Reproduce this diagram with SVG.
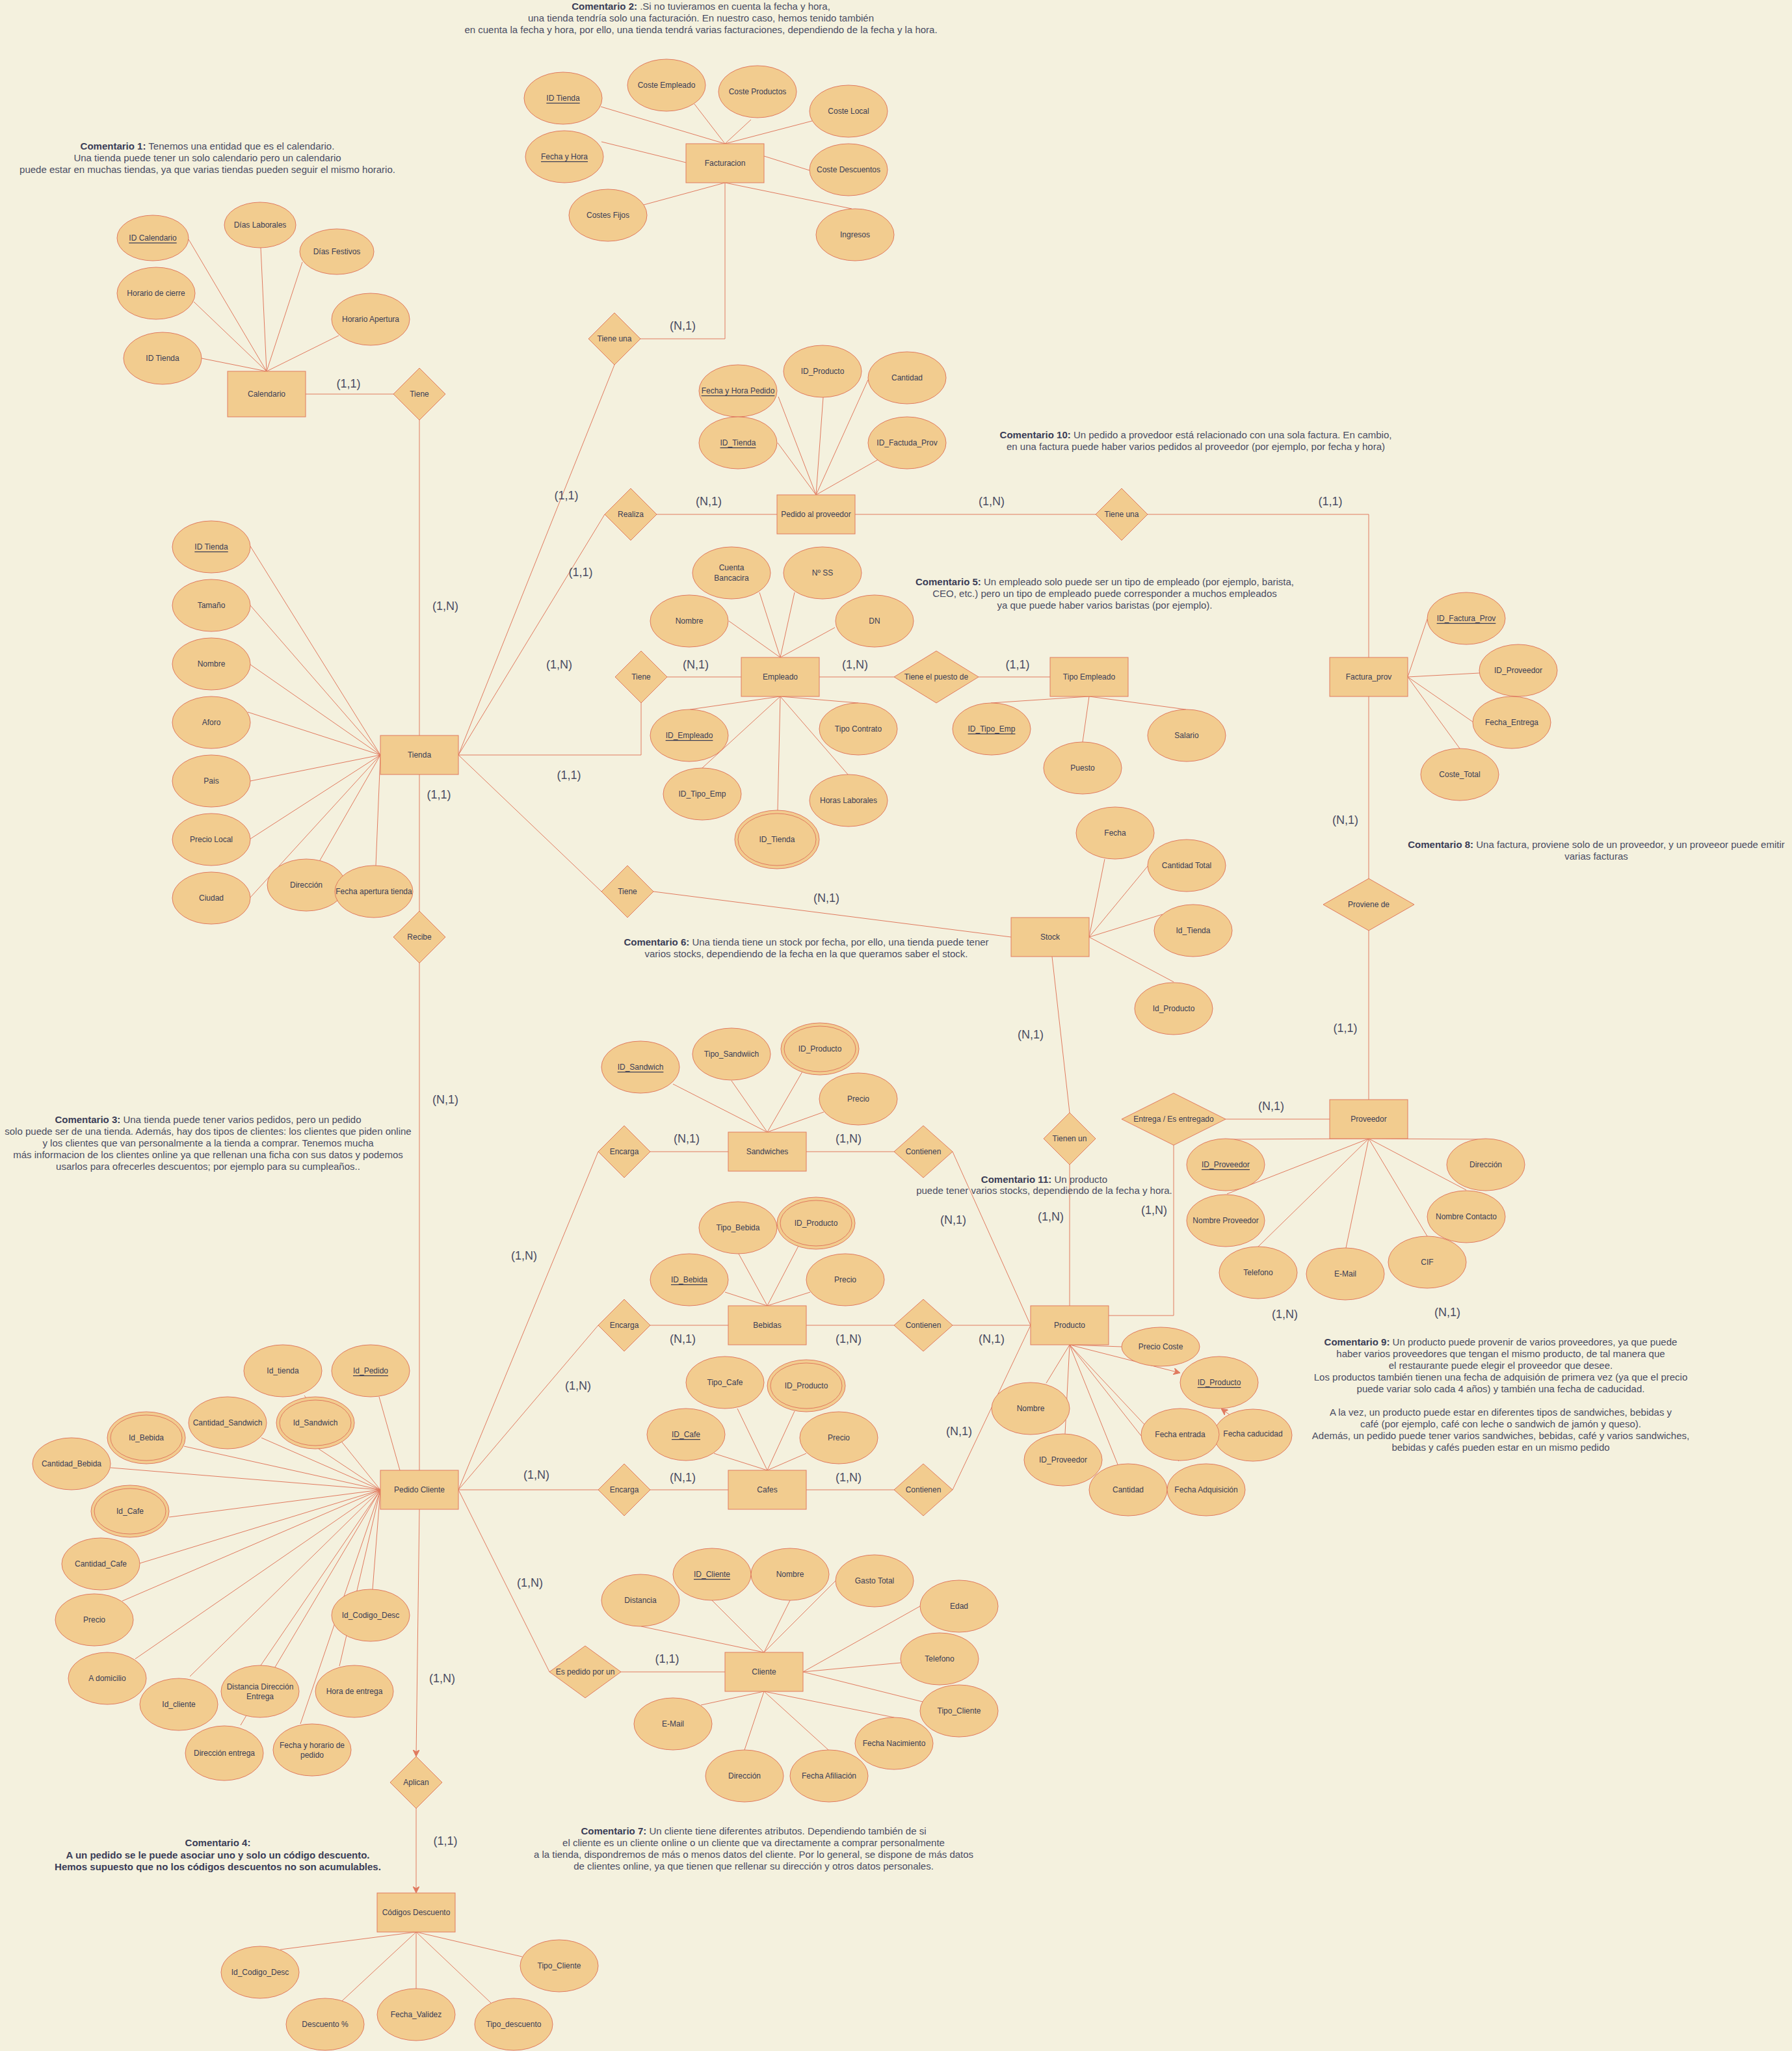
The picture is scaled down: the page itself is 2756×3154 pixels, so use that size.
<svg xmlns="http://www.w3.org/2000/svg" width="2756" height="3154" viewBox="0 0 2756 3154">
<defs>
<style>
.a{fill:#F2CC8F;stroke:#E07A5F;stroke-width:1}
.l{fill:none;stroke:#E07A5F;stroke-width:1}
.t{font-family:"Liberation Sans",Arial,sans-serif;font-size:12px;fill:#393C56;text-anchor:middle;dominant-baseline:central}
.u{text-decoration:underline}
.c{font-family:"Liberation Sans",Arial,sans-serif;font-size:18px;fill:#4a4d63;text-anchor:middle;dominant-baseline:central}
.m{font-family:"Liberation Sans",Arial,sans-serif;font-size:15px;fill:#4a4d63;text-anchor:middle;dominant-baseline:central}
.b{font-weight:bold;fill:#393C56}
</style>
<marker id="arr" viewBox="0 0 10 10" refX="9" refY="5" markerWidth="10" markerHeight="10" markerUnits="userSpaceOnUse" orient="auto"><path d="M0,0 L10,5 L0,10 L3,5 Z" fill="#E07A5F" stroke="#E07A5F"/></marker>
</defs>
<rect width="2756" height="3154" fill="#F4F1DE"/>

<g id="connectors">
<path class="l" d="M410,571L290,368M410,571L401,381M410,571L465,403M410,571L298,464M410,571L521,516M410,571L310,551"/>
<path class="l" d="M470,606L605,606M645,646L645,1131"/>
<path class="l" d="M1115,221L1068,160M1115,221L1155,184M1115,221L1249,186M1115,221L924,164M1055,250L925,218M1175,240L1245,262M1115,281L990,315M1115,281L1310,321"/>
<path class="l" d="M985,521L1115,521L1115,281M945,561L705,1161"/>
<path class="l" d="M1255,761L1197,610M1255,761L1266,611M1255,761L1335,584M1255,761L1196,681M1255,761L1350,707"/>
<path class="l" d="M930,791L705,1161M1010,791L1195,791M1315,791L1685,791M1765,791L2105,791L2105,1011"/>
<path class="l" d="M1200,1011L1121,955M1200,1011L1168,911M1200,1011L1222,911M1200,1011L1284,965"/>
<path class="l" d="M1200,1071L1061,1091M1200,1071L1320,1081M1200,1071L1080,1181M1200,1071L1196,1246M1200,1071L1304,1191"/>
<path class="l" d="M1026,1041L1140,1041M986,1081L986,1161L705,1161M1260,1041L1375,1041M1505,1041L1615,1041"/>
<path class="l" d="M1675,1071L1524,1081M1675,1071L1665,1141M1675,1071L1824,1091"/>
<path class="l" d="M585,1161L385,840M585,1161L385,931M585,1161L385,1022M585,1161L381,1095M585,1161L385,1201M585,1161L385,1290M585,1161L385,1380M585,1161L492,1323M585,1161L578,1331"/>
<path class="l" d="M645,1191L645,1401M645,1481L645,2261"/>
<path class="l" d="M705,1161L925,1371M1005,1371L1555,1441"/>
<path class="l" d="M1675,1441L1699,1321M1675,1441L1765,1332M1675,1441L1788,1406M1675,1441L1805,1510"/>
<path class="l" d="M1618,1471L1645,1711M1645,1791L1645,2008"/>
<path class="l" d="M2165,1041L2195,952M2165,1041L2275,1035M2165,1041L2265,1110M2165,1041L2245,1151"/>
<path class="l" d="M2105,1071L2105,1351M2105,1431L2105,1691M1885,1721L2045,1721M1805,1761L1805,2023L1705,2023"/>
<path class="l" d="M2105,1751L1887,1752M2105,1751L1887,1836M2105,1751L1935,1917M2105,1751L2070,1919M2105,1751L2195,1901M2105,1751L2255,1830M2105,1751L2285,1752"/>
<path class="l" d="M1645,2068L1725,2071M1645,2068L1609,2127M1645,2068L1638,2205M1645,2068L1719,2252M1645,2068L1755,2208M1645,2068L1813,2247"/>
<path class="l" d="M1645,2068L1814,2111" marker-end="url(#arr)"/>
<path class="l" d="M1927,2201L1879,2167" marker-end="url(#arr)"/>
<path class="l" d="M1180,1741L1035,1667M1180,1741L1125,1662M1180,1741L1234,1648M1180,1741L1267,1710"/>
<path class="l" d="M1000,1771L1120,1771M1240,1771L1375,1771M1465,1771L1585,2038"/>
<path class="l" d="M1180,2008L1115,1987M1180,2008L1136,1928M1180,2008L1228,1916M1180,2008L1246,1987"/>
<path class="l" d="M1000,2038L1120,2038M1240,2038L1375,2038M1465,2038L1585,2038"/>
<path class="l" d="M1180,2261L1098,2235M1180,2261L1134,2166M1180,2261L1222,2170M1180,2261L1240,2235"/>
<path class="l" d="M1000,2291L1120,2291M1240,2291L1375,2291M1465,2291L1585,2038"/>
<path class="l" d="M705,2291L920,1771M705,2291L920,2038M705,2291L920,2291M705,2291L845,2571"/>
<path class="l" d="M615,2261L583,2148M585,2291L468,2146M585,2291L490,2228M585,2291L402,2211M585,2291L283,2224M585,2291L170,2257M585,2291L260,2333M585,2291L215,2404M585,2291L188,2462M585,2291L208,2551M585,2291L292,2578M585,2291L401,2561M585,2291L370,2653M585,2291L462,2651M585,2291L522,2562M585,2291L573,2444"/>
<path class="l" d="M645,2321L640,2700" marker-end="url(#arr)"/>
<path class="l" d="M640,2781L640,2910" marker-end="url(#arr)"/>
<path class="l" d="M640,2971L431,2998M640,2971L526,3077M640,2971L640,3058M640,2971L755,3080M640,2971L803,3009"/>
<path class="l" d="M955,2571L1115,2571"/>
<path class="l" d="M1175,2541L986,2501M1175,2541L1095,2461M1175,2541L1215,2461M1175,2541L1285,2431M1235,2571L1415,2470M1235,2571L1385,2557M1235,2571L1419,2617M1175,2601L1078,2622M1175,2601L1145,2691M1175,2601L1274,2691M1175,2601L1375,2641"/>
</g>

<g id="labels">
<text class="c" x="536" y="590">(1,1)</text>
<text class="c" x="685" y="932">(1,N)</text>
<text class="c" x="1050" y="501">(N,1)</text>
<text class="c" x="871" y="762">(1,1)</text>
<text class="c" x="893" y="880">(1,1)</text>
<text class="c" x="1090" y="771">(N,1)</text>
<text class="c" x="1525" y="771">(1,N)</text>
<text class="c" x="2046" y="771">(1,1)</text>
<text class="c" x="860" y="1022">(1,N)</text>
<text class="c" x="875" y="1192">(1,1)</text>
<text class="c" x="1070" y="1022">(N,1)</text>
<text class="c" x="1315" y="1022">(1,N)</text>
<text class="c" x="1565" y="1022">(1,1)</text>
<text class="c" x="675" y="1222">(1,1)</text>
<text class="c" x="685" y="1691">(N,1)</text>
<text class="c" x="1271" y="1381">(N,1)</text>
<text class="c" x="1585" y="1591">(N,1)</text>
<text class="c" x="1616" y="1871">(1,N)</text>
<text class="c" x="2069" y="1261">(N,1)</text>
<text class="c" x="2069" y="1581">(1,1)</text>
<text class="c" x="1955" y="1701">(N,1)</text>
<text class="c" x="1775" y="1861">(1,N)</text>
<text class="c" x="1976" y="2021">(1,N)</text>
<text class="c" x="2226" y="2018">(N,1)</text>
<text class="c" x="1056" y="1751">(N,1)</text>
<text class="c" x="1305" y="1751">(1,N)</text>
<text class="c" x="1466" y="1876">(N,1)</text>
<text class="c" x="1050" y="2059">(N,1)</text>
<text class="c" x="1305" y="2059">(1,N)</text>
<text class="c" x="1525" y="2059">(N,1)</text>
<text class="c" x="1050" y="2272">(N,1)</text>
<text class="c" x="1305" y="2272">(1,N)</text>
<text class="c" x="1475" y="2201">(N,1)</text>
<text class="c" x="806" y="1931">(1,N)</text>
<text class="c" x="889" y="2131">(1,N)</text>
<text class="c" x="825" y="2268">(1,N)</text>
<text class="c" x="815" y="2434">(1,N)</text>
<text class="c" x="680" y="2581">(1,N)</text>
<text class="c" x="685" y="2831">(1,1)</text>
<text class="c" x="1026" y="2551">(1,1)</text>
</g>

<g id="comments">
<text class="m" x="319" y="224"><tspan class="b">Comentario 1:</tspan> Tenemos una entidad que es el calendario.</text>
<text class="m" x="319" y="242">Una tienda puede tener un solo calendario pero un calendario</text>
<text class="m" x="319" y="260">puede estar en muchas tiendas, ya que varias tiendas pueden seguir el mismo horario.</text>
<text class="m" x="1078" y="9"><tspan class="b">Comentario 2:</tspan> .Si no tuvieramos en cuenta la fecha y hora,</text>
<text class="m" x="1078" y="27">una tienda tendría solo una facturación. En nuestro caso, hemos tenido también</text>
<text class="m" x="1078" y="45">en cuenta la fecha y hora, por ello, una tienda tendrá varias facturaciones, dependiendo de la fecha y la hora.</text>
<text class="m" x="320" y="1721"><tspan class="b">Comentario 3:</tspan> Una tienda puede tener varios pedidos, pero un pedido</text>
<text class="m" x="320" y="1739">solo puede ser de una tienda. Además, hay dos tipos de clientes: los clientes que piden online</text>
<text class="m" x="320" y="1757">y los clientes que van personalmente a la tienda a comprar. Tenemos mucha</text>
<text class="m" x="320" y="1775">más informacion de los clientes online ya que rellenan una ficha con sus datos y podemos</text>
<text class="m" x="320" y="1793">usarlos para ofrecerles descuentos; por ejemplo para su cumpleaños..</text>
<text class="m b" x="335" y="2833">Comentario 4:</text>
<text class="m b" x="335" y="2852">A un pedido se le puede asociar uno y solo un código descuento.</text>
<text class="m b" x="335" y="2870">Hemos supuesto que no los códigos descuentos no son acumulables.</text>
<text class="m" x="1699" y="894"><tspan class="b">Comentario 5:</tspan> Un empleado solo puede ser un tipo de empleado (por ejemplo, barista,</text>
<text class="m" x="1699" y="912">CEO, etc.) pero un tipo de empleado puede corresponder a muchos empleados</text>
<text class="m" x="1699" y="930">ya que puede haber varios baristas (por ejemplo).</text>
<text class="m" x="1240" y="1448"><tspan class="b">Comentario 6:</tspan> Una tienda tiene un stock por fecha, por ello, una tienda puede tener</text>
<text class="m" x="1240" y="1466">varios stocks, dependiendo de la fecha en la que queramos saber el stock.</text>
<text class="m" x="1159" y="2815"><tspan class="b">Comentario 7:</tspan> Un cliente tiene diferentes atributos. Dependiendo también de si</text>
<text class="m" x="1159" y="2833">el cliente es un cliente online o un cliente que va directamente a comprar personalmente</text>
<text class="m" x="1159" y="2851">a la tienda, dispondremos de más o menos datos del cliente. Por lo general, se dispone de más datos</text>
<text class="m" x="1159" y="2869">de clientes online, ya que tienen que rellenar su dirección y otros datos personales.</text>
<text class="m" x="2455" y="1298"><tspan class="b">Comentario 8:</tspan> Una factura, proviene solo de un proveedor, y un proveeor puede emitir</text>
<text class="m" x="2455" y="1316">varias facturas</text>
<text class="m" x="2308" y="2063"><tspan class="b">Comentario 9:</tspan> Un producto puede provenir de varios proveedores, ya que puede</text>
<text class="m" x="2308" y="2081">haber varios proveedores que tengan el mismo producto, de tal manera que</text>
<text class="m" x="2308" y="2099">el restaurante puede elegir el proveedor que desee.</text>
<text class="m" x="2308" y="2117">Los productos también tienen una fecha de adquisión de primera vez (ya que el precio</text>
<text class="m" x="2308" y="2135">puede variar solo cada 4 años) y también una fecha de caducidad.</text>
<text class="m" x="2308" y="2171">A la vez, un producto puede estar en diferentes tipos de sandwiches, bebidas y</text>
<text class="m" x="2308" y="2189">café (por ejemplo, café con leche o sandwich de jamón y queso).</text>
<text class="m" x="2308" y="2207">Además, un pedido puede tener varios sandwiches, bebidas, café y varios sandwiches,</text>
<text class="m" x="2308" y="2225">bebidas y cafés pueden estar en un mismo pedido</text>
<text class="m" x="1839" y="668"><tspan class="b">Comentario 10:</tspan> Un pedido a provedoor está relacionado con una sola factura. En cambio,</text>
<text class="m" x="1839" y="686">en una factura puede haber varios pedidos al proveedor (por ejemplo, por fecha y hora)</text>
<text class="m" x="1606" y="1813"><tspan class="b">Comentario 11:</tspan> Un producto</text>
<text class="m" x="1606" y="1830">puede tener varios stocks, dependiendo de la fecha y hora.</text>
</g>

<g id="calendario"><rect class="a" x="350" y="571" width="120" height="70"/><text class="t" x="410" y="606">Calendario</text></g>
<g id="cal-id"><ellipse class="a" cx="235" cy="366" rx="55" ry="35"/><text class="t u" x="235" y="366">ID Calendario </text></g>
<g id="cal-dl"><ellipse class="a" cx="400" cy="346" rx="55" ry="35"/><text class="t" x="400" y="346">Días Laborales</text></g>
<g id="cal-df"><ellipse class="a" cx="518" cy="387" rx="57" ry="35"/><text class="t" x="518" y="387">Días Festivos</text></g>
<g id="cal-hc"><ellipse class="a" cx="240" cy="451" rx="60" ry="40"/><text class="t" x="240" y="451">Horario de cierre</text></g>
<g id="cal-ha"><ellipse class="a" cx="570" cy="491" rx="60" ry="40"/><text class="t" x="570" y="491">Horario Apertura</text></g>
<g id="cal-idt"><ellipse class="a" cx="250" cy="551" rx="60" ry="40"/><text class="t" x="250" y="551">ID Tienda</text></g>
<g id="rel-tiene-cal"><polygon class="a" points="645,566 685,606 645,646 605,606"/><text class="t" x="645" y="606">Tiene</text></g>

<g id="facturacion"><rect class="a" x="1055" y="221" width="120" height="60"/><text class="t" x="1115" y="251">Facturacion</text></g>
<g id="fac-idt"><ellipse class="a" cx="866" cy="151" rx="60" ry="40"/><text class="t u" x="866" y="151">ID Tienda</text></g>
<g id="fac-fh"><ellipse class="a" cx="868" cy="241" rx="60" ry="40"/><text class="t u" x="868" y="241">Fecha y Hora</text></g>
<g id="fac-ce"><ellipse class="a" cx="1025" cy="131" rx="60" ry="40"/><text class="t" x="1025" y="131">Coste Empleado</text></g>
<g id="fac-cp"><ellipse class="a" cx="1165" cy="141" rx="60" ry="40"/><text class="t" x="1165" y="141">Coste Productos</text></g>
<g id="fac-cl"><ellipse class="a" cx="1305" cy="171" rx="60" ry="40"/><text class="t" x="1305" y="171">Coste Local</text></g>
<g id="fac-cd"><ellipse class="a" cx="1305" cy="261" rx="60" ry="40"/><text class="t" x="1305" y="261">Coste Descuentos</text></g>
<g id="fac-cf"><ellipse class="a" cx="935" cy="331" rx="60" ry="40"/><text class="t" x="935" y="331">Costes Fijos</text></g>
<g id="fac-in"><ellipse class="a" cx="1315" cy="361" rx="60" ry="40"/><text class="t" x="1315" y="361">Ingresos</text></g>
<g id="rel-tiene-una"><polygon class="a" points="945,481 985,521 945,561 905,521"/><text class="t" x="945" y="521">Tiene una</text></g>

<g id="pedido-prov"><rect class="a" x="1195" y="761" width="120" height="60"/><text class="t" x="1255" y="791">Pedido al proveedor</text></g>
<g id="pp-fh"><ellipse class="a" cx="1135" cy="601" rx="60" ry="40"/><text class="t u" x="1135" y="601">Fecha y Hora Pedido</text></g>
<g id="pp-idp"><ellipse class="a" cx="1265" cy="571" rx="60" ry="40"/><text class="t" x="1265" y="571">ID_Producto</text></g>
<g id="pp-cant"><ellipse class="a" cx="1395" cy="581" rx="60" ry="40"/><text class="t" x="1395" y="581">Cantidad</text></g>
<g id="pp-idt"><ellipse class="a" cx="1135" cy="681" rx="60" ry="40"/><text class="t u" x="1135" y="681">ID_Tienda</text></g>
<g id="pp-idf"><ellipse class="a" cx="1395" cy="681" rx="60" ry="40"/><text class="t" x="1395" y="681">ID_Factuda_Prov</text></g>
<g id="rel-realiza"><polygon class="a" points="970,751 1010,791 970,831 930,791"/><text class="t" x="970" y="791">Realiza</text></g>
<g id="rel-tiene-una2"><polygon class="a" points="1725,751 1765,791 1725,831 1685,791"/><text class="t" x="1725" y="791">Tiene una</text></g>

<g id="empleado"><rect class="a" x="1140" y="1011" width="120" height="60"/><text class="t" x="1200" y="1041">Empleado</text></g>
<g id="emp-cb"><ellipse class="a" cx="1125" cy="881" rx="60" ry="40"/><text class="t" x="1125" y="873">Cuenta</text><text class="t" x="1125" y="889">Bancacira</text></g>
<g id="emp-ss"><ellipse class="a" cx="1265" cy="881" rx="60" ry="40"/><text class="t" x="1265" y="881">Nº SS</text></g>
<g id="emp-nom"><ellipse class="a" cx="1060" cy="955" rx="60" ry="40"/><text class="t" x="1060" y="955">Nombre</text></g>
<g id="emp-dn"><ellipse class="a" cx="1345" cy="955" rx="60" ry="40"/><text class="t" x="1345" y="955">DN</text></g>
<g id="emp-id"><ellipse class="a" cx="1060" cy="1131" rx="60" ry="40"/><text class="t u" x="1060" y="1131">ID_Empleado</text></g>
<g id="emp-tc"><ellipse class="a" cx="1320" cy="1121" rx="60" ry="40"/><text class="t" x="1320" y="1121">Tipo Contrato</text></g>
<g id="emp-ite"><ellipse class="a" cx="1080" cy="1221" rx="60" ry="40"/><text class="t" x="1080" y="1221">ID_Tipo_Emp</text></g>
<g id="emp-hl"><ellipse class="a" cx="1305" cy="1231" rx="60" ry="40"/><text class="t" x="1305" y="1231">Horas Laborales</text></g>
<g id="emp-idt"><ellipse class="a" cx="1195" cy="1291" rx="65" ry="45"/><ellipse class="a" cx="1195" cy="1291" rx="60" ry="40"/><text class="t" x="1195" y="1291">ID_Tienda</text></g>
<g id="rel-tiene-emp"><polygon class="a" points="986,1001 1026,1041 986,1081 946,1041"/><text class="t" x="986" y="1041">Tiene</text></g>
<g id="rel-puesto"><polygon class="a" points="1440,1001 1505,1041 1440,1081 1375,1041"/><text class="t" x="1440" y="1041">Tiene el puesto de</text></g>
<g id="tipo-empleado"><rect class="a" x="1615" y="1011" width="120" height="60"/><text class="t" x="1675" y="1041">Tipo Empleado</text></g>
<g id="te-id"><ellipse class="a" cx="1525" cy="1121" rx="60" ry="40"/><text class="t u" x="1525" y="1121">ID_Tipo_Emp</text></g>
<g id="te-puesto"><ellipse class="a" cx="1665" cy="1181" rx="60" ry="40"/><text class="t" x="1665" y="1181">Puesto</text></g>
<g id="te-sal"><ellipse class="a" cx="1825" cy="1131" rx="60" ry="40"/><text class="t" x="1825" y="1131">Salario</text></g>

<g id="tienda"><rect class="a" x="585" y="1131" width="120" height="60"/><text class="t" x="645" y="1161">Tienda</text></g>
<g id="ti-id"><ellipse class="a" cx="325" cy="841" rx="60" ry="40"/><text class="t u" x="325" y="841">ID Tienda</text></g>
<g id="ti-tam"><ellipse class="a" cx="325" cy="931" rx="60" ry="40"/><text class="t" x="325" y="931">Tamaño</text></g>
<g id="ti-nom"><ellipse class="a" cx="325" cy="1021" rx="60" ry="40"/><text class="t" x="325" y="1021">Nombre</text></g>
<g id="ti-afo"><ellipse class="a" cx="325" cy="1111" rx="60" ry="40"/><text class="t" x="325" y="1111">Aforo</text></g>
<g id="ti-pais"><ellipse class="a" cx="325" cy="1201" rx="60" ry="40"/><text class="t" x="325" y="1201">Pais</text></g>
<g id="ti-pl"><ellipse class="a" cx="325" cy="1291" rx="60" ry="40"/><text class="t" x="325" y="1291">Precio Local</text></g>
<g id="ti-ciu"><ellipse class="a" cx="325" cy="1381" rx="60" ry="40"/><text class="t" x="325" y="1381">Ciudad</text></g>
<g id="ti-dir"><ellipse class="a" cx="471" cy="1361" rx="60" ry="40"/><text class="t" x="471" y="1361">Dirección</text></g>
<g id="ti-fa"><ellipse class="a" cx="575" cy="1371" rx="60" ry="40"/><text class="t" x="575" y="1371">Fecha apertura tienda</text></g>
<g id="rel-recibe"><polygon class="a" points="645,1401 685,1441 645,1481 605,1441"/><text class="t" x="645" y="1441">Recibe</text></g>

<g id="rel-tiene-stock"><polygon class="a" points="965,1331 1005,1371 965,1411 925,1371"/><text class="t" x="965" y="1371">Tiene</text></g>
<g id="stock"><rect class="a" x="1555" y="1411" width="120" height="60"/><text class="t" x="1615" y="1441">Stock</text></g>
<g id="st-fecha"><ellipse class="a" cx="1715" cy="1281" rx="60" ry="40"/><text class="t" x="1715" y="1281">Fecha</text></g>
<g id="st-ct"><ellipse class="a" cx="1825" cy="1331" rx="60" ry="40"/><text class="t" x="1825" y="1331">Cantidad Total</text></g>
<g id="st-idt"><ellipse class="a" cx="1835" cy="1431" rx="60" ry="40"/><text class="t" x="1835" y="1431">Id_Tienda</text></g>
<g id="st-idp"><ellipse class="a" cx="1805" cy="1551" rx="60" ry="40"/><text class="t" x="1805" y="1551">Id_Producto</text></g>
<g id="rel-tienen-un"><polygon class="a" points="1645,1711 1685,1751 1645,1791 1605,1751"/><text class="t" x="1645" y="1751">Tienen un</text></g>

<g id="factura-prov"><rect class="a" x="2045" y="1011" width="120" height="60"/><text class="t" x="2105" y="1041">Factura_prov</text></g>
<g id="fp-id"><ellipse class="a" cx="2255" cy="951" rx="60" ry="40"/><text class="t u" x="2255" y="951">ID_Factura_Prov</text></g>
<g id="fp-idp"><ellipse class="a" cx="2335" cy="1031" rx="60" ry="40"/><text class="t" x="2335" y="1031">ID_Proveedor</text></g>
<g id="fp-fe"><ellipse class="a" cx="2325" cy="1111" rx="60" ry="40"/><text class="t" x="2325" y="1111">Fecha_Entrega</text></g>
<g id="fp-ct"><ellipse class="a" cx="2245" cy="1191" rx="60" ry="40"/><text class="t" x="2245" y="1191">Coste_Total</text></g>
<g id="rel-proviene"><polygon class="a" points="2105,1351 2175,1391 2105,1431 2035,1391"/><text class="t" x="2105" y="1391">Proviene de</text></g>

<g id="proveedor"><rect class="a" x="2045" y="1691" width="120" height="60"/><text class="t" x="2105" y="1721">Proveedor</text></g>
<g id="pv-id"><ellipse class="a" cx="1885" cy="1791" rx="60" ry="40"/><text class="t u" x="1885" y="1791">ID_Proveedor</text></g>
<g id="pv-nom"><ellipse class="a" cx="1885" cy="1877" rx="60" ry="40"/><text class="t" x="1885" y="1877">Nombre Proveedor</text></g>
<g id="pv-tel"><ellipse class="a" cx="1935" cy="1957" rx="60" ry="40"/><text class="t" x="1935" y="1957">Telefono</text></g>
<g id="pv-mail"><ellipse class="a" cx="2069" cy="1959" rx="60" ry="40"/><text class="t" x="2069" y="1959">E-Mail</text></g>
<g id="pv-cif"><ellipse class="a" cx="2195" cy="1941" rx="60" ry="40"/><text class="t" x="2195" y="1941">CIF</text></g>
<g id="pv-nc"><ellipse class="a" cx="2255" cy="1871" rx="60" ry="40"/><text class="t" x="2255" y="1871">Nombre Contacto</text></g>
<g id="pv-dir"><ellipse class="a" cx="2285" cy="1791" rx="60" ry="40"/><text class="t" x="2285" y="1791">Dirección</text></g>
<g id="rel-entrega"><polygon class="a" points="1805,1681 1885,1721 1805,1761 1725,1721"/><text class="t" x="1805" y="1721">Entrega / Es entregado</text></g>

<g id="producto"><rect class="a" x="1585" y="2008" width="120" height="60"/><text class="t" x="1645" y="2038">Producto</text></g>
<g id="pr-pc"><ellipse class="a" cx="1785" cy="2071" rx="60" ry="30"/><text class="t" x="1785" y="2071">Precio Coste</text></g>
<g id="pr-id"><ellipse class="a" cx="1875" cy="2126" rx="60" ry="40"/><text class="t u" x="1875" y="2126">ID_Producto</text></g>
<g id="pr-nom"><ellipse class="a" cx="1585" cy="2166" rx="60" ry="40"/><text class="t" x="1585" y="2166">Nombre</text></g>
<g id="pr-idp"><ellipse class="a" cx="1635" cy="2245" rx="60" ry="40"/><text class="t" x="1635" y="2245">ID_Proveedor</text></g>
<g id="pr-cant"><ellipse class="a" cx="1735" cy="2291" rx="60" ry="40"/><text class="t" x="1735" y="2291">Cantidad</text></g>
<g id="pr-fc"><ellipse class="a" cx="1927" cy="2207" rx="60" ry="40"/><text class="t" x="1927" y="2205">Fecha caducidad</text></g>
<g id="pr-fe"><ellipse class="a" cx="1815" cy="2206" rx="60" ry="40"/><text class="t" x="1815" y="2206">Fecha entrada</text></g>
<g id="pr-fa"><ellipse class="a" cx="1855" cy="2291" rx="60" ry="40"/><text class="t" x="1855" y="2291">Fecha Adquisición</text></g>

<g id="sandwiches"><rect class="a" x="1120" y="1741" width="120" height="60"/><text class="t" x="1180" y="1771">Sandwiches</text></g>
<g id="sw-id"><ellipse class="a" cx="985" cy="1641" rx="60" ry="40"/><text class="t u" x="985" y="1641">ID_Sandwich</text></g>
<g id="sw-tipo"><ellipse class="a" cx="1125" cy="1621" rx="60" ry="40"/><text class="t" x="1125" y="1621">Tipo_Sandwiich</text></g>
<g id="sw-idp"><ellipse class="a" cx="1261" cy="1613" rx="60" ry="40"/><ellipse class="a" cx="1261" cy="1613" rx="55" ry="35"/><text class="t" x="1261" y="1613">ID_Producto</text></g>
<g id="sw-pre"><ellipse class="a" cx="1320" cy="1690" rx="60" ry="40"/><text class="t" x="1320" y="1690">Precio</text></g>
<g id="rel-encarga-sw"><polygon class="a" points="960,1731 1000,1771 960,1811 920,1771"/><text class="t" x="960" y="1771">Encarga</text></g>
<g id="rel-contienen-sw"><polygon class="a" points="1420,1731 1465,1771 1420,1811 1375,1771"/><text class="t" x="1420" y="1771">Contienen</text></g>

<g id="bebidas"><rect class="a" x="1120" y="2008" width="120" height="60"/><text class="t" x="1180" y="2038">Bebidas</text></g>
<g id="bb-tipo"><ellipse class="a" cx="1135" cy="1888" rx="60" ry="40"/><text class="t" x="1135" y="1888">Tipo_Bebida</text></g>
<g id="bb-idp"><ellipse class="a" cx="1255" cy="1881" rx="60" ry="40"/><ellipse class="a" cx="1255" cy="1881" rx="55" ry="35"/><text class="t" x="1255" y="1881">ID_Producto</text></g>
<g id="bb-id"><ellipse class="a" cx="1060" cy="1968" rx="60" ry="40"/><text class="t u" x="1060" y="1968">ID_Bebida</text></g>
<g id="bb-pre"><ellipse class="a" cx="1300" cy="1968" rx="60" ry="40"/><text class="t" x="1300" y="1968">Precio</text></g>
<g id="rel-encarga-bb"><polygon class="a" points="960,1998 1000,2038 960,2078 920,2038"/><text class="t" x="960" y="2038">Encarga</text></g>
<g id="rel-contienen-bb"><polygon class="a" points="1420,1998 1465,2038 1420,2078 1375,2038"/><text class="t" x="1420" y="2038">Contienen</text></g>

<g id="cafes"><rect class="a" x="1120" y="2261" width="120" height="60"/><text class="t" x="1180" y="2291">Cafes</text></g>
<g id="cf-tipo"><ellipse class="a" cx="1115" cy="2126" rx="60" ry="40"/><text class="t" x="1115" y="2126">Tipo_Cafe</text></g>
<g id="cf-idp"><ellipse class="a" cx="1240" cy="2131" rx="60" ry="40"/><ellipse class="a" cx="1240" cy="2131" rx="55" ry="35"/><text class="t" x="1240" y="2131">ID_Producto</text></g>
<g id="cf-id"><ellipse class="a" cx="1055" cy="2206" rx="60" ry="40"/><text class="t u" x="1055" y="2206">ID_Cafe</text></g>
<g id="cf-pre"><ellipse class="a" cx="1290" cy="2211" rx="60" ry="40"/><text class="t" x="1290" y="2211">Precio</text></g>
<g id="rel-encarga-cf"><polygon class="a" points="960,2251 1000,2291 960,2331 920,2291"/><text class="t" x="960" y="2291">Encarga</text></g>
<g id="rel-contienen-cf"><polygon class="a" points="1420,2251 1465,2291 1420,2331 1375,2291"/><text class="t" x="1420" y="2291">Contienen</text></g>

<g id="pedido-cliente"><rect class="a" x="585" y="2261" width="120" height="60"/><text class="t" x="645" y="2291">Pedido Cliente</text></g>
<g id="pc-idt"><ellipse class="a" cx="435" cy="2108" rx="60" ry="40"/><text class="t" x="435" y="2108">Id_tienda</text></g>
<g id="pc-idp"><ellipse class="a" cx="570" cy="2108" rx="60" ry="40"/><text class="t u" x="570" y="2108">Id_Pedido</text></g>
<g id="pc-cs"><ellipse class="a" cx="350" cy="2188" rx="60" ry="40"/><text class="t" x="350" y="2188">Cantidad_Sandwich</text></g>
<g id="pc-ids"><ellipse class="a" cx="485" cy="2188" rx="60" ry="40"/><ellipse class="a" cx="485" cy="2188" rx="55" ry="35"/><text class="t" x="485" y="2188">Id_Sandwich</text></g>
<g id="pc-idb"><ellipse class="a" cx="225" cy="2211" rx="60" ry="40"/><ellipse class="a" cx="225" cy="2211" rx="55" ry="35"/><text class="t" x="225" y="2211">Id_Bebida</text></g>
<g id="pc-cb"><ellipse class="a" cx="110" cy="2251" rx="60" ry="40"/><text class="t" x="110" y="2251">Cantidad_Bebida</text></g>
<g id="pc-idc"><ellipse class="a" cx="200" cy="2324" rx="60" ry="40"/><ellipse class="a" cx="200" cy="2324" rx="55" ry="35"/><text class="t" x="200" y="2324">Id_Cafe</text></g>
<g id="pc-cc"><ellipse class="a" cx="155" cy="2405" rx="60" ry="40"/><text class="t" x="155" y="2405">Cantidad_Cafe</text></g>
<g id="pc-pre"><ellipse class="a" cx="145" cy="2491" rx="60" ry="40"/><text class="t" x="145" y="2491">Precio</text></g>
<g id="pc-dom"><ellipse class="a" cx="165" cy="2581" rx="60" ry="40"/><text class="t" x="165" y="2581">A domicilio</text></g>
<g id="pc-idcl"><ellipse class="a" cx="275" cy="2621" rx="60" ry="40"/><text class="t" x="275" y="2621">Id_cliente</text></g>
<g id="pc-dde"><ellipse class="a" cx="400" cy="2601" rx="60" ry="40"/><text class="t" x="400" y="2594">Distancia Dirección</text><text class="t" x="400" y="2609">Entrega</text></g>
<g id="pc-he"><ellipse class="a" cx="545" cy="2601" rx="60" ry="40"/><text class="t" x="545" y="2601">Hora de entrega</text></g>
<g id="pc-icd"><ellipse class="a" cx="570" cy="2484" rx="60" ry="40"/><text class="t" x="570" y="2484">Id_Codigo_Desc</text></g>
<g id="pc-de"><ellipse class="a" cx="345" cy="2696" rx="60" ry="42"/><text class="t" x="345" y="2696">Dirección entrega</text></g>
<g id="pc-fh"><ellipse class="a" cx="480" cy="2691" rx="60" ry="40"/><text class="t" x="480" y="2684">Fecha y horario de</text><text class="t" x="480" y="2699">pedido</text></g>
<g id="rel-aplican"><polygon class="a" points="640,2701 680,2741 640,2781 600,2741"/><text class="t" x="640" y="2741">Aplican</text></g>

<g id="codigos"><rect class="a" x="580" y="2911" width="120" height="60"/><text class="t" x="640" y="2941">Códigos Descuento</text></g>
<g id="cd-id"><ellipse class="a" cx="400" cy="3033" rx="60" ry="40"/><text class="t" x="400" y="3033">Id_Codigo_Desc</text></g>
<g id="cd-pct"><ellipse class="a" cx="500" cy="3113" rx="60" ry="40"/><text class="t" x="500" y="3113">Descuento %</text></g>
<g id="cd-fv"><ellipse class="a" cx="640" cy="3098" rx="60" ry="40"/><text class="t" x="640" y="3098">Fecha_Validez</text></g>
<g id="cd-td"><ellipse class="a" cx="790" cy="3113" rx="60" ry="40"/><text class="t" x="790" y="3113">Tipo_descuento</text></g>
<g id="cd-tc"><ellipse class="a" cx="860" cy="3023" rx="60" ry="40"/><text class="t" x="860" y="3023">Tipo_Cliente</text></g>

<g id="rel-es-pedido"><polygon class="a" points="900,2531 955,2571 900,2611 845,2571"/><text class="t" x="900" y="2571">Es pedido por un</text></g>
<g id="cliente"><rect class="a" x="1115" y="2541" width="120" height="60"/><text class="t" x="1175" y="2571">Cliente</text></g>
<g id="cl-dist"><ellipse class="a" cx="985" cy="2461" rx="60" ry="40"/><text class="t" x="985" y="2461">Distancia</text></g>
<g id="cl-id"><ellipse class="a" cx="1095" cy="2421" rx="60" ry="40"/><text class="t u" x="1095" y="2421">ID_Cliente</text></g>
<g id="cl-nom"><ellipse class="a" cx="1215" cy="2421" rx="60" ry="40"/><text class="t" x="1215" y="2421">Nombre</text></g>
<g id="cl-gt"><ellipse class="a" cx="1345" cy="2431" rx="60" ry="40"/><text class="t" x="1345" y="2431">Gasto Total</text></g>
<g id="cl-edad"><ellipse class="a" cx="1475" cy="2470" rx="60" ry="40"/><text class="t" x="1475" y="2470">Edad</text></g>
<g id="cl-tel"><ellipse class="a" cx="1445" cy="2551" rx="60" ry="40"/><text class="t" x="1445" y="2551">Telefono</text></g>
<g id="cl-tipo"><ellipse class="a" cx="1475" cy="2631" rx="60" ry="40"/><text class="t" x="1475" y="2631">Tipo_Cliente</text></g>
<g id="cl-fn"><ellipse class="a" cx="1375" cy="2681" rx="60" ry="40"/><text class="t" x="1375" y="2681">Fecha Nacimiento</text></g>
<g id="cl-fa"><ellipse class="a" cx="1275" cy="2731" rx="60" ry="40"/><text class="t" x="1275" y="2731">Fecha Afiliación</text></g>
<g id="cl-dir"><ellipse class="a" cx="1145" cy="2731" rx="60" ry="40"/><text class="t" x="1145" y="2731">Dirección</text></g>
<g id="cl-mail"><ellipse class="a" cx="1035" cy="2651" rx="60" ry="40"/><text class="t" x="1035" y="2651">E-Mail</text></g>
</svg>
